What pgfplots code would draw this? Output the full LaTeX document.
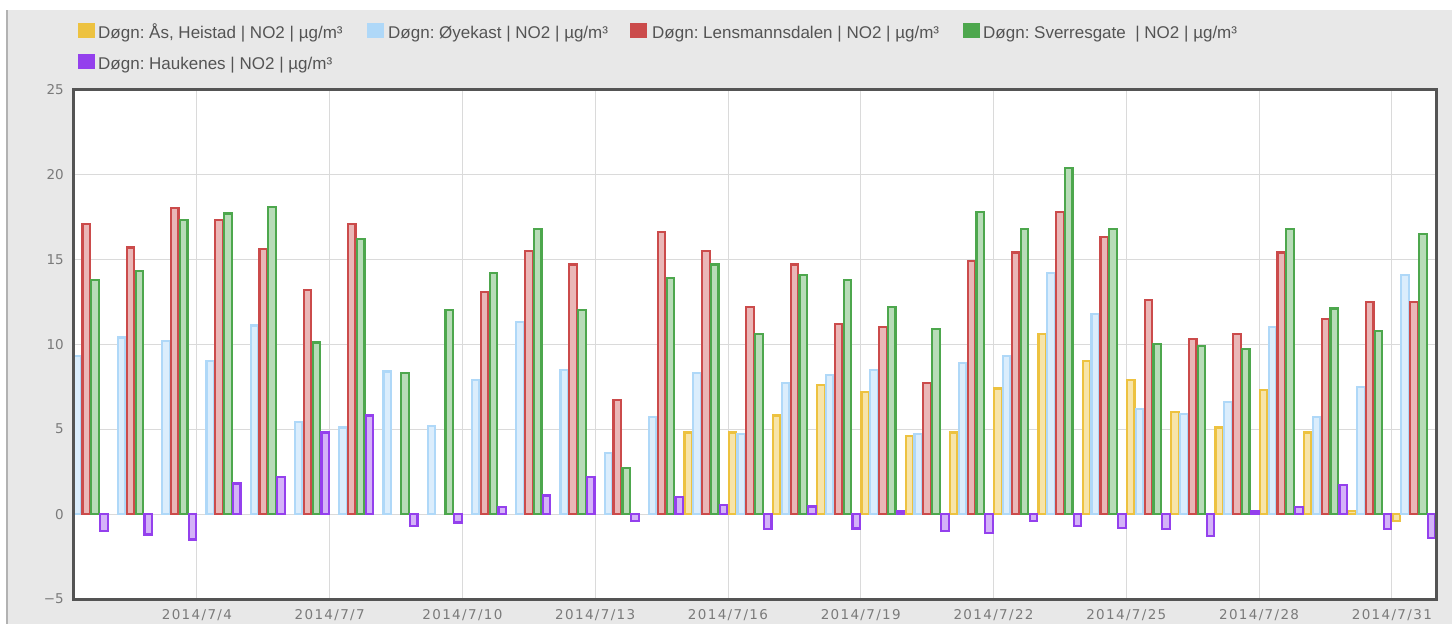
\documentclass[border=0pt]{standalone}
\usepackage{fontspec}
\setmainfont{Liberation Sans}
\newfontfamily\dvfont{DejaVu Sans}
\newfontfamily\dvfontls[LetterSpace=10]{DejaVu Sans}
\usepackage{pgfplots}
\usepackage{pgfplotstable}
\pgfplotsset{compat=1.18}

\definecolor{cyel}{HTML}{EDC240}
\definecolor{cblu}{HTML}{AFD8F8}
\definecolor{cred}{HTML}{CB4B4B}
\definecolor{cgrn}{HTML}{4DA74D}
\definecolor{cpur}{HTML}{9440ED}
\definecolor{panel}{HTML}{E8E8E8}
\definecolor{framegray}{HTML}{545454}
\definecolor{gridgray}{HTML}{DADADA}
\definecolor{tickgray}{HTML}{7A7A7A}
\definecolor{legtext}{HTML}{545454}

% Døgn: Ås, Heistad
\pgfplotstableread{
d v
15 4.8
16 4.8
17 5.8
18 7.6
19 7.2
20 4.6
21 4.8
22 7.4
23 10.6
24 9.0
25 7.9
26 6.0
27 5.1
28 7.3
29 4.8
30 0.2
31 -0.4
}\yeldata
% Døgn: Øyekast
\pgfplotstableread{
d v
1 9.3
2 10.4
3 10.2
4 9.0
5 11.1
6 5.4
7 5.1
8 8.4
9 5.2
10 7.9
11 11.3
12 8.5
13 3.6
14 5.7
15 8.3
16 4.7
17 7.7
18 8.2
19 8.5
20 4.7
21 8.9
22 9.3
23 14.2
24 11.8
25 6.2
26 5.9
27 6.6
28 11.0
29 5.7
30 7.5
31 14.1
}\bludata
% Døgn: Lensmannsdalen
\pgfplotstableread{
d v
1 17.1
2 15.7
3 18.0
4 17.3
5 15.6
6 13.2
7 17.1
10 13.1
11 15.5
12 14.7
13 6.7
14 16.6
15 15.5
16 12.2
17 14.7
18 11.2
19 11.0
20 7.7
21 14.9
22 15.4
23 17.8
24 16.3
25 12.6
26 10.3
27 10.6
28 15.4
29 11.5
30 12.5
31 12.5
}\reddata
% Døgn: Sverresgate
\pgfplotstableread{
d v
1 13.8
2 14.3
3 17.3
4 17.7
5 18.1
6 10.1
7 16.2
8 8.3
9 12.0
10 14.2
11 16.8
12 12.0
13 2.7
14 13.9
15 14.7
16 10.6
17 14.1
18 13.8
19 12.2
20 10.9
21 17.8
22 16.8
23 20.4
24 16.8
25 10.0
26 9.9
27 9.7
28 16.8
29 12.1
30 10.8
31 16.5
}\grndata
% Døgn: Haukenes
\pgfplotstableread{
d v
1 -1.0
2 -1.2
3 -1.5
4 1.8
5 2.2
6 4.8
7 5.8
8 -0.7
9 -0.5
10 0.4
11 1.1
12 2.2
13 -0.4
14 1.0
15 0.55
16 -0.9
17 0.45
18 -0.85
19 0.15
20 -1.0
21 -1.1
22 -0.4
23 -0.7
24 -0.8
25 -0.9
26 -1.3
27 0.15
28 0.4
29 1.7
30 -0.9
31 -1.4
}\purdata

\begin{document}
\frenchspacing
\begin{tikzpicture}[x=1pt,y=1pt]
\path[use as bounding box] (0,0) rectangle (1452,-624);
\fill[white] (0,0) rectangle (1452,-624);
\fill[panel] (7,-10) rectangle (1452,-624);
\draw[gray!60, line width=2pt] (7,-10) -- (7,-624);

% legend
\begin{scope}[every node/.style={anchor=base west, inner sep=0pt, text=legtext, font=\fontsize{17}{20}\selectfont}]
\fill[cyel] (78,-23) rectangle (95,-38);
\node at (98,-38) {Døgn: Ås, Heistad | NO2 | µg/m³};
\fill[cblu] (367,-23) rectangle (384,-38);
\node at (388,-38) {Døgn: Øyekast | NO2 | µg/m³};
\fill[cred] (630,-23) rectangle (647,-38);
\node at (652,-38) {Døgn: Lensmannsdalen | NO2 | µg/m³};
\fill[cgrn] (963,-23) rectangle (980,-38);
\node at (983,-38) {Døgn: Sverresgate~ | NO2 | µg/m³};
\fill[cpur] (78,-54) rectangle (95,-69);
\node at (98,-69) {Døgn: Haukenes | NO2 | µg/m³};
\end{scope}

\begin{axis}[
  at={(73pt,-599pt)}, anchor=south west,
  scale only axis, width=1364pt, height=509.5pt,
  xmin=1.2, xmax=32.02, ymin=-5, ymax=25,
  enlargelimits=false,
  axis background/.style={fill=white},
  axis line style={draw=none},
  xtick={4,7,...,31},
  xticklabels={2014/7/4,2014/7/7,2014/7/10,2014/7/13,2014/7/16,2014/7/19,2014/7/22,2014/7/25,2014/7/28,2014/7/31},
  ytick={-5,0,5,10,15,20,25},
  yticklabels={−5,0,5,10,15,20,25},
  major tick length=0pt,
  grid=major,
  major grid style={draw=gridgray, line width=1pt},
  xticklabel style={font=\dvfontls\fontsize{13.5}{16}\selectfont, text=tickgray, inner sep=0pt, anchor=north, yshift=-10pt},
  yticklabel style={font=\dvfont\fontsize{13.5}{16}\selectfont, text=tickgray, inner sep=0pt, anchor=east, xshift=-9pt},
  ybar, bar width=0.17,
  clip=false,
]
\addplot[ybar, bar shift=0pt, draw=cyel, fill=cyel!45!white, line width=2.2pt] table[x expr=\thisrow{d}+0.1, y=v] {\yeldata};
\addplot[ybar, bar shift=0pt, draw=cblu, fill=cblu!45!white, line width=2.2pt] table[x expr=\thisrow{d}+0.3, y=v] {\bludata};
\addplot[ybar, bar shift=0pt, draw=cred, fill=cred!40!white, line width=2.2pt] table[x expr=\thisrow{d}+0.5, y=v] {\reddata};
\addplot[ybar, bar shift=0pt, draw=cgrn, fill=cgrn!40!white, line width=2.2pt] table[x expr=\thisrow{d}+0.7, y=v] {\grndata};
\addplot[ybar, bar shift=0pt, draw=cpur, fill=cpur!40!white, line width=2.2pt] table[x expr=\thisrow{d}+0.9, y=v] {\purdata};
\end{axis}
\draw[framegray, line width=3pt] (73,-599) rectangle (1436.5,-89.5);
\end{tikzpicture}
\end{document}
